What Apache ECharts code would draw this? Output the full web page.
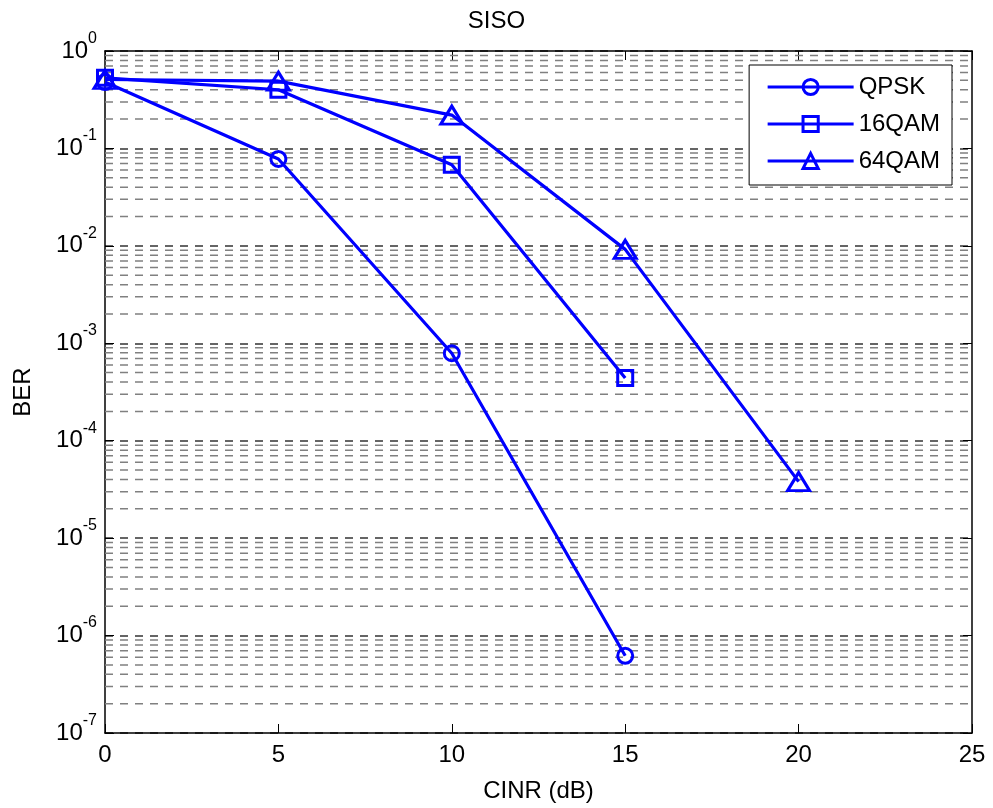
<!DOCTYPE html>
<html>
<head>
<meta charset="utf-8">
<script src="https://cdn.jsdelivr.net/npm/echarts@6/dist/echarts.min.js"></script>
<style>
html,body{margin:0;padding:0;background:#fff;}
#chart{width:993px;height:808px;}
</style>
</head>
<body>
<div id="chart"></div>
<script>
const cinr = [0, 5, 10, 15, 20];
const qpsk = [0.48, 0.078, 7.9e-4, 6.2e-7];
const qam16 = [0.53, 0.40, 0.068, 4.4e-4];
const qam64 = [0.51, 0.49, 0.22, 0.0092, 3.8e-5];
const seriesNames = ['QPSK', '16QAM', '64QAM'];
const xTicks = [0, 5, 10, 15, 20, 25];
const yDecades = [-7, -6, -5, -4, -3, -2, -1, 0];

const FONT = 'Liberation Sans, Arial, sans-serif';
const BLUE = '#0000ff';
const X_MIN = xTicks[0], X_MAX = xTicks[xTicks.length - 1];

function pairs(vals) { return vals.map((v, i) => [cinr[i], v]); }

const minorValues = [];
for (let d = yDecades[0]; d < yDecades[yDecades.length - 1]; d++) {
  for (let k = 2; k <= 9; k++) minorValues.push(k * Math.pow(10, d));
}

function lineSeries(name, vals, symbol, size) {
  return {
    name: name, type: 'line', data: pairs(vals), z: 5,
    symbol: symbol, symbolSize: size, showAllSymbol: true,
    lineStyle: { color: BLUE, width: 3.2 },
    itemStyle: { color: 'rgba(0,0,0,0)', borderColor: BLUE, borderWidth: 3 },
    emphasis: { disabled: true }, animation: false
  };
}

const minorSeries = minorValues.map(v => ({
  name: 'minor', type: 'line', z: 1, silent: true, symbol: 'none',
  data: [[X_MIN, v], [X_MAX, v]],
  lineStyle: { color: '#808080', width: 1.5, type: [8, 7] },
  emphasis: { disabled: true }, animation: false, tooltip: { show: false }
}));

const chart = echarts.init(document.getElementById('chart'), null, { renderer: 'canvas' });
chart.setOption({
  backgroundColor: '#fff',
  animation: false,
  title: {
    text: 'SISO', left: 'center', top: 9, padding: 0,
    textStyle: { fontFamily: FONT, fontSize: 24, fontWeight: 'normal', color: '#000' }
  },
  legend: {
    data: seriesNames, orient: 'vertical', right: 41, top: 65,
    backgroundColor: '#fff', borderColor: '#000', borderWidth: 1,
    padding: [10, 12, 12, 17], itemGap: 13, itemWidth: 86, itemHeight: 19,
    lineStyle: { width: 3 },
    itemStyle: { borderWidth: 3 },
    textStyle: { fontFamily: FONT, fontSize: 24, color: '#000' }
  },
  grid: { left: 105, right: 21, top: 51, bottom: 74 },
  xAxis: [{
    type: 'value', min: X_MIN, max: X_MAX, interval: 5,
    name: 'CINR (dB)', nameLocation: 'middle', nameGap: 46,
    nameTextStyle: { fontFamily: FONT, fontSize: 24, color: '#000' },
    axisLine: { show: true, onZero: false, lineStyle: { color: '#000', width: 1.5 } },
    axisTick: { show: true, inside: true, length: 9, lineStyle: { color: '#000', width: 1 } },
    axisLabel: { fontFamily: FONT, fontSize: 24, color: '#000', margin: 10 },
    splitLine: { show: false }
  }, {
    type: 'value', position: 'top', min: X_MIN, max: X_MAX, interval: 5,
    axisLine: { show: true, onZero: false, lineStyle: { color: '#000', width: 1.5 } },
    axisTick: { show: true, inside: true, length: 9, lineStyle: { color: '#000', width: 1 } },
    axisLabel: { show: false }, splitLine: { show: false }
  }],
  yAxis: [{
    type: 'log', logBase: 10, min: Math.pow(10, yDecades[0]), max: Math.pow(10, yDecades[yDecades.length - 1]),
    splitNumber: 7,
    name: 'BER', nameLocation: 'middle', nameGap: 70, nameRotate: 90,
    nameTextStyle: { fontFamily: FONT, fontSize: 24, color: '#000' },
    axisLine: { show: true, onZero: false, lineStyle: { color: '#000', width: 1.5 } },
    axisTick: { show: true, inside: true, length: 9, lineStyle: { color: '#000', width: 1 } },
    axisLabel: {
      margin: 8,
      formatter: function (v) {
        const e = Math.round(Math.log10(v));
        return '{b|10}{s|' + e + '}';
      },
      rich: {
        b: { fontFamily: FONT, fontSize: 24, color: '#000', verticalAlign: 'middle' },
        s: { fontFamily: FONT, fontSize: 16, color: '#000', verticalAlign: 'top', lineHeight: 41 }
      }
    },
    splitLine: { show: true, lineStyle: { color: '#333', width: 1.5, type: [8, 7] } }
  }, {
    type: 'log', logBase: 10, position: 'right', min: Math.pow(10, yDecades[0]), max: Math.pow(10, yDecades[yDecades.length - 1]),
    splitNumber: 7,
    axisLine: { show: true, onZero: false, lineStyle: { color: '#000', width: 1.5 } },
    axisTick: { show: true, inside: true, length: 9, lineStyle: { color: '#000', width: 1 } },
    axisLabel: { show: false }, splitLine: { show: false }
  }],
  series: minorSeries.concat([
    lineSeries(seriesNames[0], qpsk, 'circle', 15),
    lineSeries(seriesNames[1], qam16, 'rect', 15),
    lineSeries(seriesNames[2], qam64, 'triangle', [22, 18])
  ])
});
</script>
</body>
</html>
